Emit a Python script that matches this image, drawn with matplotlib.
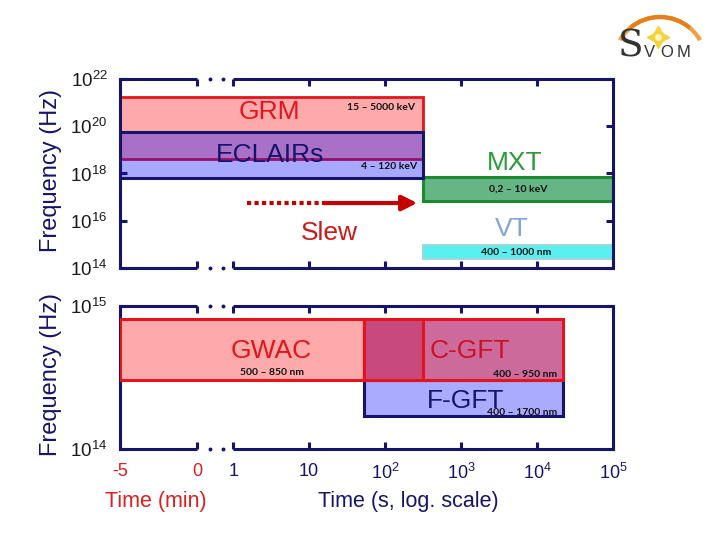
import numpy as np
import matplotlib
matplotlib.use("Agg")
import matplotlib.pyplot as plt
from matplotlib.patches import Arc

plt.rcParams["font.family"] = ["Liberation Sans", "DejaVu Sans"]
plt.rcParams["mathtext.fontset"] = "custom"
plt.rcParams["mathtext.rm"] = "Liberation Sans"
plt.rcParams["mathtext.it"] = "Liberation Sans:italic"
plt.rcParams["mathtext.bf"] = "Liberation Sans:bold"

# ---------------- data ----------------
# time spans: start in minutes (before trigger), end in seconds (log scale)
top_names = ["GRM", "ECLAIRs", "MXT", "VT"]
top_start_min = [-5, -5, None, None]
top_start_s = [None, None, 320, 320]
top_end_s = [320, 320, 1e5, 1e5]
top_flo = [10**18.61, 10**17.82, 10**16.84, 10**14.37]
top_fhi = [10**21.22, 10**19.76, 10**17.84, 10**14.97]
top_ranges = ["15 – 5000 keV", "4 – 120 keV", "0,2 – 10 keV", "400 – 1000 nm"]

bot_names = ["GWAC", "C-GFT", "F-GFT"]
bot_start_min = [-5, None, None]
bot_start_s = [None, 52, 52]
bot_end_s = [52, 2.2e4, 2.2e4]
bot_flo = [10**14.484, 10**14.484, 10**14.23]
bot_fhi = [10**14.909, 10**14.909, 10**14.484]
bot_ranges = ["500 – 850 nm", "400 – 950 nm", "400 – 1700 nm"]

slew_dotted_s = [1.5, 16]
slew_solid_s = [16, 265]
slew_freq = 10**16.75

min_ticks = [-5, 0]
sec_ticks = [1, 10, 1e2, 1e3, 1e4, 1e5]
sec_tick_labels = ["1", "10", r"$\mathregular{10^2}$", r"$\mathregular{10^3}$",
                   r"$\mathregular{10^4}$", r"$\mathregular{10^5}$"]
top_yticks = [1e14, 1e16, 1e18, 1e20, 1e22]
bot_yticks = [1e14, 1e15]

# ---------------- styles ----------------
NAVY = "#14146a"
RED = "#e3141c"
PINK = "#ffaaaa"
TXTRED = "#dc1f1f"

MIN_W = 1.013   # width of 5-minute segment (in decades)
SEC0 = 1.49     # axis position of t = 1 s


def tmin(m):
    return (m + 5) / 5 * MIN_W


def tsec(s):
    return SEC0 + np.log10(s)


def start_pos(m, s):
    return tmin(m) if m is not None else tsec(s)


XMAX = tsec(1e5)

fig = plt.figure(figsize=(7.2, 5.4), dpi=100)
ax1 = fig.add_axes([120 / 720, 1 - 268 / 540, 493 / 720, 189 / 540])
ax2 = fig.add_axes([120 / 720, 1 - 449.3 / 540, 493 / 720, 143.3 / 540])


def style_axes(ax, yticks, ylim, xlabels):
    ax.set_yscale("log")
    ax.set_ylim(*ylim)
    ax.set_xlim(0, XMAX)
    for side in ["left", "right"]:
        ax.spines[side].set_color(NAVY)
        ax.spines[side].set_linewidth(2.2)
    for side in ["top", "bottom"]:
        ax.spines[side].set_visible(False)
    tr = ax.get_xaxis_transform()
    x0, x1 = tmin(0), tsec(1)
    for yy in (0, 1):
        ax.plot([0, x0], [yy, yy], color=NAVY, lw=2.2, transform=tr,
                clip_on=False, solid_capstyle="butt", zorder=5)
        ax.plot([x1, XMAX], [yy, yy], color=NAVY, lw=2.2, transform=tr,
                clip_on=False, solid_capstyle="butt", zorder=5)
        ax.plot([x0 + 0.37 * (x1 - x0), x0 + 0.72 * (x1 - x0)], [yy, yy], "o",
                ms=1.8, color=NAVY, transform=tr, clip_on=False, zorder=5)
    ax.set_yticks(yticks)
    ax.set_yticklabels([r"$\mathregular{10^{%d}}$" % round(np.log10(v)) for v in yticks])
    ax.yaxis.set_minor_locator(matplotlib.ticker.NullLocator())
    ax.tick_params(axis="y", which="major", direction="in", length=5, width=2.2,
                   color=NAVY, right=True, labelsize=13.5, labelcolor="#1a1a1a", pad=9)
    xt = [tmin(m) for m in min_ticks] + [tsec(s) for s in sec_ticks]
    ax.set_xticks(xt)
    ax.tick_params(axis="x", direction="in", length=5, width=2.2, color=NAVY,
                   top=True, bottom=True, labelsize=13, pad=10)
    if xlabels:
        ax.set_xticklabels([str(m) for m in min_ticks] + sec_tick_labels)
        for i, lab in enumerate(ax.get_xticklabels()):
            lab.set_color(TXTRED if i < len(min_ticks) else NAVY)
    else:
        ax.set_xticklabels([])


style_axes(ax1, top_yticks, (1e14, 1e22), False)
style_axes(ax2, bot_yticks, (1e14, 1e15), True)

# ---------------- top panel ----------------
def bar(ax, x0, x1, lo, hi, fc, ec, lw=2.0, z=2):
    ax.bar(x0, hi - lo, bottom=lo, width=x1 - x0, align="edge",
           facecolor=fc, edgecolor=ec, linewidth=lw, zorder=z)


xs = [start_pos(m, s) for m, s in zip(top_start_min, top_start_s)]
xe = [tsec(s) for s in top_end_s]
bar(ax1, xs[0], xe[0], top_flo[0], top_fhi[0], PINK, RED, 2.0, 2)
bar(ax1, xs[1], xe[1], top_flo[1], top_fhi[1], (0.03, 0.03, 1.0, 0.35), NAVY, 2.2, 3)
bar(ax1, xs[2], xe[2], top_flo[2], top_fhi[2], "#66b585", "#1e8a2e", 2.2, 2)
bar(ax1, xs[3], xe[3], top_flo[3], top_fhi[3], "#5af0f0", "#9fd8d8", 1.5, 2)

ax1.text(1.97, 10**20.6, "GRM", color=RED, fontsize=19, ha="center", va="center", zorder=6)
ax1.text(1.97, 10**18.8, "ECLAIRs", color=NAVY, fontsize=19, ha="center", va="center", zorder=6)
ax1.text(5.2, 10**18.44, "MXT", color="#2a9a3a", fontsize=19, ha="center", va="center", zorder=6)
ax1.text(5.16, 10**15.65, "VT", color="#7ea6d6", fontsize=19, ha="center", va="center", zorder=6)
ax1.text(2.76, 10**15.48, "Slew", color="#cc1a1a", fontsize=19, ha="center", va="center", zorder=6)

small = dict(fontsize=7.5, fontweight="bold", family=["Lato", "DejaVu Sans"],
             color="#111111", zorder=7)
ax1.text(3.89, 10**20.8, top_ranges[0], ha="right", va="center", **small)
ax1.text(3.91, 10**18.28, top_ranges[1], ha="right", va="center", **small)
ax1.text(5.24, 10**17.34, top_ranges[2], ha="center", va="center", **small)
ax1.text(5.22, 10**14.65, top_ranges[3], ha="center", va="center", **small)

# slew arrow
ax1.plot([tsec(v) for v in slew_dotted_s], [slew_freq] * 2, color="#c40000",
         lw=3, linestyle=(0, (1.0, 0.8)), zorder=4)
ax1.annotate("", xy=(tsec(slew_solid_s[1]), slew_freq),
             xytext=(tsec(slew_solid_s[0]), slew_freq),
             arrowprops=dict(arrowstyle="-|>,head_length=0.9,head_width=0.45",
                             color="#c40000", lw=3, shrinkA=0, shrinkB=0), zorder=4)

# ---------------- bottom panel ----------------
bxs = [start_pos(m, s) for m, s in zip(bot_start_min, bot_start_s)]
bxe = [tsec(s) for s in bot_end_s]
bar(ax2, bxs[2], bxe[2], bot_flo[2], bot_fhi[2], "#aaaaff", NAVY, 2.2, 2)
bar(ax2, bxs[0], bxe[0], bot_flo[0], bot_fhi[0], PINK, RED, 2.2, 3)
bar(ax2, bxs[1], bxe[1], bot_flo[1], bot_fhi[1], "#cd6a9c", RED, 2.2, 3)
bar(ax2, bxs[1], tsec(top_end_s[0]), bot_flo[1], bot_fhi[1], "#c84a7c", RED, 2.2, 3)

ax2.text(1.99, 10**14.688, "GWAC", color=RED, fontsize=19, ha="center", va="center", zorder=6)
ax2.text(4.61, 10**14.686, "C-GFT", color="#cc1122", fontsize=19, ha="center", va="center", zorder=6)
ax2.text(4.55, 10**14.34, "F-GFT", color=NAVY, fontsize=19, ha="center", va="center", zorder=6)
ax2.text(2.0, 10**14.535, bot_ranges[0], ha="center", va="center", **small)
ax2.text(5.76, 10**14.525, bot_ranges[1], ha="right", va="center", **small)
ax2.text(5.76, 10**14.255, bot_ranges[2], ha="right", va="center", **small)

# ---------------- axis titles ----------------
fig.text(51 / 720, 1 - 170 / 540, "Frequency (Hz)", rotation=90, color=NAVY,
         fontsize=17, ha="center", va="center")
fig.text(51 / 720, 1 - 375 / 540, "Frequency (Hz)", rotation=90, color=NAVY,
         fontsize=17, ha="center", va="center")
fig.text(156 / 720, 1 - 501 / 540, "Time (min)", color=TXTRED, fontsize=15.5,
         ha="center", va="center")
fig.text(408 / 720, 1 - 501 / 540, "Time (s, log. scale)", color=NAVY, fontsize=15.5,
         ha="center", va="center")

# ---------------- logo ----------------
lg = fig.add_axes([600 / 720, 1 - 75 / 540, 115 / 720, 70 / 540])
lg.set_xlim(600, 715)
lg.set_ylim(465, 535)
lg.axis("off")
lg.add_patch(Arc((660, 476.7), 92.6, 92.6, theta1=30, theta2=150,
                 color="#f0a040", lw=3.0))
lg.add_patch(Arc((660, 476.7), 92.6, 92.6, theta1=50, theta2=130,
                 color="#e87e1a", lw=3.0))
lg.plot([658], [503], marker=(4, 1, 0), ms=16, color="#f6d23a")
lg.plot([658], [503], marker=(4, 1, 45), ms=9, color="#f6d23a")
lg.plot([658], [503], marker="o", ms=4, color="#fff6c0")
lg.text(631, 493, "S", fontsize=27, family="DejaVu Serif", color="#333333",
        ha="center", va="center")
for ch, xx in zip("VOM", [649, 667, 684]):
    lg.text(xx, 487, ch, fontsize=12, color="#333333", ha="center", va="center")

fig.savefig("out.png", dpi=100)
